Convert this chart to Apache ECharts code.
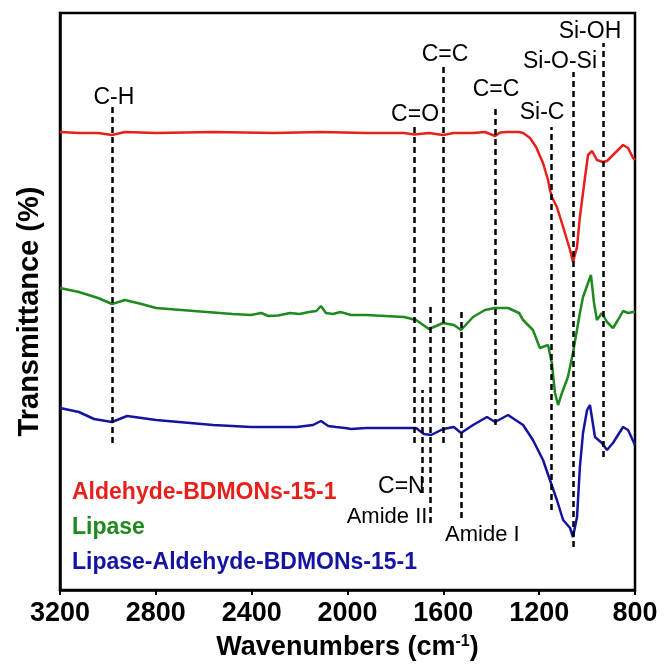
<!DOCTYPE html>
<html>
<head>
<meta charset="utf-8">
<script src="https://cdn.jsdelivr.net/npm/echarts@6/dist/echarts.min.js"></script>
<style>
  html, body { margin: 0; padding: 0; background: #fff; }
  #main { width: 664px; height: 668px; }
</style>
</head>
<body>
<div id="main"></div>
<script>
// FTIR spectra, offset transmittance (arbitrary units)
var seriesNames = ['Aldehyde-BDMONs-15-1', 'Lipase', 'Lipase-Aldehyde-BDMONs-15-1'];
var seriesColors = ['#e8201c', '#1e8a1e', '#1414a0'];

var aldehydeData = [
  [3200, 91.6], [3121, 91.4], [3041, 91.4], [2983, 91.0], [2929, 91.6], [2799, 91.4],
  [2561, 91.6], [2307, 91.4], [2111, 91.6], [1923, 91.4], [1764, 91.4], [1720, 91.1],
  [1660, 91.4], [1601, 91.0], [1556, 91.4], [1476, 91.4], [1426, 91.6], [1384, 90.8],
  [1363, 91.5], [1334, 91.6], [1284, 91.6], [1267, 91.4], [1238, 90.4], [1213, 88.6],
  [1184, 85.4], [1163, 82.0], [1155, 80.0], [1147, 78.6], [1126, 76.6], [1100, 72.6],
  [1071, 68.0], [1059, 65.6], [1042, 68.6], [1030, 74.6], [1009, 82.4], [996, 87.0],
  [979, 87.8], [959, 86.0], [934, 85.6], [917, 85.8], [892, 87.0], [850, 89.0],
  [829, 88.4], [808, 86.4], [800, 86.0]
];

var lipaseData = [
  [3200, 60.4], [3121, 59.6], [3041, 58.4], [2983, 57.2], [2929, 58.0], [2860, 57.2],
  [2799, 56.4], [2641, 55.8], [2480, 55.2], [2403, 55.0], [2360, 55.4], [2330, 54.8],
  [2290, 54.9], [2240, 55.4], [2200, 55.2], [2161, 55.6], [2130, 55.8], [2111, 56.8],
  [2090, 55.4], [2060, 55.2], [2030, 55.6], [1985, 55.0], [1923, 55.0], [1764, 54.6],
  [1714, 54.0], [1660, 52.2], [1630, 52.8], [1601, 53.4], [1556, 53.0], [1526, 52.0],
  [1476, 54.6], [1426, 56.0], [1384, 56.4], [1330, 56.4], [1284, 55.4], [1267, 54.0],
  [1226, 52.0], [1197, 48.4], [1163, 49.0], [1147, 45.4], [1134, 39.4], [1121, 37.0],
  [1105, 39.4], [1080, 42.6], [1059, 47.4], [1030, 55.4], [1017, 58.6], [996, 61.4],
  [984, 63.0], [971, 57.4], [959, 54.0], [938, 55.4], [917, 53.6], [892, 52.4],
  [871, 54.0], [850, 55.8], [829, 55.4], [808, 55.6], [800, 55.6]
];

var lipaseAldehydeData = [
  [3200, 36.4], [3121, 35.6], [3058, 34.2], [2983, 33.6], [2920, 34.8], [2799, 34.0],
  [2561, 33.0], [2403, 32.6], [2300, 32.6], [2211, 32.6], [2144, 33.0], [2111, 33.8],
  [2080, 32.8], [2048, 32.6], [2010, 32.4], [1985, 32.2], [1923, 32.4], [1714, 32.4],
  [1681, 31.2], [1651, 31.0], [1601, 32.2], [1556, 32.6], [1526, 31.4], [1476, 33.0],
  [1418, 34.6], [1384, 33.6], [1330, 35.0], [1267, 33.0], [1226, 30.0], [1184, 26.0],
  [1155, 22.0], [1126, 18.0], [1100, 14.0], [1071, 12.4], [1059, 10.6], [1042, 14.6],
  [1030, 24.6], [1017, 31.4], [1000, 36.0], [988, 37.0], [967, 30.6], [938, 29.4],
  [917, 28.0], [892, 29.4], [850, 32.6], [829, 32.0], [800, 29.0]
];

// peak markers: wavenumber, dashed line top and bottom (same units as the y axis)
var peakWavenumbers = [2980, 1720, 1686, 1656, 1600, 1527, 1384, 1150, 1056, 932];
var peakLineTop = [96.6, 93.4, 40.0, 56.6, 105.4, 56.2, 96.8, 92.6, 103.6, 109.4];
var peakLineBottom = [29.4, 29.4, 19.4, 13.4, 29.4, 14.4, 33.0, 16.0, 8.6, 26.6];

// peak labels: text and position
var peakLabelText = ['C-H', 'C=O', 'C=C', 'C=C', 'Si-C', 'Si-O-Si', 'Si-OH', 'C=N', 'Amide II', 'Amide I'];
var peakLabelX = [2975, 1718, 1593, 1380, 1188, 1113, 988, 1775, 1835, 1437];
var peakLabelY = [98.4, 95.0, 107.0, 100.0, 95.4, 105.6, 111.6, 20.6, 14.6, 11.0];
var peakLabelSize = [23, 23, 23, 23, 23, 23, 23, 23, 22, 22];

var xTicks = { min: 800, max: 3200, interval: 400 };

var font = 'Liberation Sans, Arial, sans-serif';

var myChart = echarts.init(document.getElementById('main'), null, { renderer: 'canvas' });

var markLines = peakWavenumbers.map(function (w, i) {
  return [{ coord: [w, peakLineBottom[i]] }, { coord: [w, peakLineTop[i]] }];
});

var labelData = peakLabelText.map(function (t, i) {
  return {
    name: t,
    value: [peakLabelX[i], peakLabelY[i]],
    label: { fontSize: peakLabelSize[i] }
  };
});

var spectra = [aldehydeData, lipaseData, lipaseAldehydeData];

var series = spectra.map(function (d, i) {
  return {
    name: seriesNames[i],
    type: 'line',
    data: d,
    showSymbol: false,
    symbol: 'none',
    smooth: false,
    z: 3,
    lineStyle: { color: seriesColors[i], width: 2.5 },
    itemStyle: { color: seriesColors[i] }
  };
});

series.push({
  name: 'peaks',
  type: 'line',
  data: [],
  z: 4,
  markLine: {
    silent: true,
    symbol: ['none', 'none'],
    animation: false,
    label: { show: false },
    lineStyle: { color: '#000', width: 2.5, type: [6, 4] },
    data: markLines
  }
});

series.push({
  name: 'labels',
  type: 'scatter',
  symbolSize: 0,
  silent: true,
  z: 5,
  data: labelData,
  itemStyle: { opacity: 1, color: '#000' },
  label: {
    show: true,
    position: 'inside',
    formatter: '{b}',
    color: '#000',
    fontFamily: font,
    fontSize: 23
  }
});

var option = {
  animation: false,
  grid: {
    left: 60,
    top: 13,
    right: 29,
    bottom: 78,
    show: true,
    borderColor: '#000',
    borderWidth: 2.5
  },
  legend: {
    orient: 'vertical',
    left: 62,
    top: 476,
    itemWidth: 0,
    itemHeight: 0,
    itemGap: 12,
    selectedMode: false,
    textStyle: { fontFamily: font, fontSize: 23, fontWeight: 'bold' },
    data: seriesNames.map(function (n, i) {
      return { name: n, icon: 'rect', textStyle: { color: seriesColors[i] } };
    })
  },
  xAxis: {
    type: 'value',
    inverse: true,
    min: xTicks.min,
    max: xTicks.max,
    interval: xTicks.interval,
    name: 'Wavenumbers (cm{sup|-1})',
    nameLocation: 'middle',
    nameGap: 44,
    nameTextStyle: {
      fontFamily: font,
      fontSize: 27,
      fontWeight: 'bold',
      color: '#000',
      rich: {
        sup: { fontFamily: font, fontSize: 16, fontWeight: 'bold', color: '#000', verticalAlign: 'top' }
      }
    },
    axisLine: { lineStyle: { color: '#000', width: 2.5 } },
    axisTick: { show: true, inside: false, length: 5, lineStyle: { color: '#000', width: 2 } },
    axisLabel: {
      fontFamily: font,
      fontSize: 27,
      fontWeight: 'bold',
      color: '#000',
      margin: 10,
      formatter: function (v) { return String(v); }
    },
    splitLine: { show: false }
  },
  yAxis: {
    type: 'value',
    min: 0,
    max: 115.4,
    name: 'Transmittance (%)',
    nameLocation: 'middle',
    nameGap: 16,
    nameTextStyle: {
      fontFamily: font,
      fontSize: 29,
      fontWeight: 'bold',
      color: '#000',
      padding: [0, 20, 0, 0]
    },
    axisLine: { show: true, lineStyle: { color: '#000', width: 2.5 } },
    axisTick: { show: false },
    axisLabel: { show: false },
    splitLine: { show: false }
  },
  series: series
};

myChart.setOption(option);
window.onresize = function () {
  myChart.resize();
};
</script>
</body>
</html>
